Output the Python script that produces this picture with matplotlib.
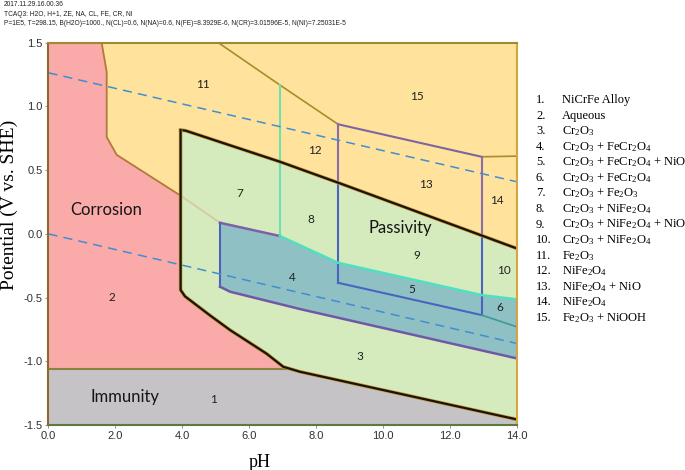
import matplotlib
matplotlib.use("Agg")
import matplotlib.pyplot as plt
from matplotlib.patches import Polygon

# Pourbaix diagram for NiCrFe alloy (pH vs potential)
header_lines = [
    "2017.11.29.16.00.36",
    "TCAQ3: H2O, H+1, ZE, NA, CL, FE, CR, NI",
    "P=1E5, T=298.15, B(H2O)=1000., N(CL)=0.6, N(NA)=0.6, N(FE)=8.3929E-6, "
    "N(CR)=3.01596E-5, N(NI)=7.25031E-5",
]

# boundary curves as (pH, E) points
aqueous_fe2o3 = [(1.59, 1.5), (1.74, 1.27), (1.74, 0.76), (2.04, 0.62), (3.95, 0.30)]
fe2o3_inner = [(3.95, 0.30), (5.13, 0.087)]
cr2o3_top = [(3.95, 0.815), (4.1, 0.81), (6.92, 0.566), (8.72, 0.396), (14.0, -0.114)]
cr2o3_left = [(3.95, 0.815), (3.95, -0.44), (4.08, -0.49), (4.83, -0.64),
              (5.43, -0.755), (6.52, -0.94), (7.02, -1.043), (7.52, -1.082), (14.0, -1.456)]
immunity_top = [(0.0, -1.064), (7.15, -1.064)]
fe_cr_top = [(5.13, 0.087), (6.92, -0.017), (8.66, -0.227), (12.95, -0.48), (14.0, -0.514)]
fe_cr_bottom = [(5.13, -0.415), (5.43, -0.454), (7.52, -0.59), (14.0, -0.977)]
hematite_split = [(5.08, 1.5), (6.92, 1.168), (8.66, 0.86)]
nio_top = [(8.66, 0.86), (12.95, 0.605)]
niooh_edge = [(12.95, 0.605), (14.0, 0.61)]
nio_bottom = [(8.66, -0.384), (12.95, -0.637)]
fecr_split = [(12.95, -0.637), (14.0, -0.729)]
ph_left_box = 8.66
ph_right_box = 12.95
ph_ni_split = 6.92

# water stability lines
o2_line = [(0.0, 1.264), (14.0, 0.409)]
h2_line = [(0.0, 0.0), (14.0, -0.86)]

# region labels
region_labels = ["11", "15", "12", "13", "14", "7", "8", "9", "10", "4", "5", "6", "3", "2", "1"]
label_ph = [4.62, 11.02, 7.97, 11.29, 13.41, 5.73, 7.85, 11.02, 13.62, 7.28, 10.87, 13.5, 9.31, 1.9, 4.92]
label_e = [1.176, 1.08, 0.658, 0.39, 0.265, 0.32, 0.115, -0.167, -0.286, -0.34, -0.435, -0.58, -0.96, -0.5, -1.3]

zone_names = ["Corrosion", "Passivity", "Immunity"]
zone_ph = [1.72, 10.51, 2.29]
zone_e = [0.185, 0.045, -1.28]

legend_items = [
    "NiCrFe Alloy", "Aqueous", r"Cr$_2$O$_3$", r"Cr$_2$O$_3$ + FeCr$_2$O$_4$",
    r"Cr$_2$O$_3$ + FeCr$_2$O$_4$ + NiO", r"Cr$_2$O$_3$ + FeCr$_2$O$_4$",
    r"Cr$_2$O$_3$ + Fe$_2$O$_3$", r"Cr$_2$O$_3$ + NiFe$_2$O$_4$",
    r"Cr$_2$O$_3$ + NiFe$_2$O$_4$ + NiO", r"Cr$_2$O$_3$ + NiFe$_2$O$_4$",
    r"Fe$_2$O$_3$", r"NiFe$_2$O$_4$", r"NiFe$_2$O$_4$ + NiO", r"NiFe$_2$O$_4$",
    r"Fe$_2$O$_3$ + NiOOH",
]

plt.rcParams["mathtext.fontset"] = "custom"
plt.rcParams["mathtext.rm"] = "Liberation Serif"
plt.rcParams["mathtext.it"] = "Liberation Serif:italic"

fig = plt.figure(figsize=(6.85, 4.7), dpi=100)
ax = fig.add_axes([0.0708, 0.0957, 0.6835, 0.8134])
ax.set_xlim(0, 14)
ax.set_ylim(-1.5, 1.5)
ax.set_facecolor("#ffe39c")

red = "#f9aaa9"
green = "#d6ebbd"
teal = "#8fc1c4"
grey = "#c5c3c5"


def xs(pts):
    return [p[0] for p in pts]


def ys(pts):
    return [p[1] for p in pts]


# green Cr2O3 zone
green_poly = cr2o3_top + [(14.0, -1.456)] + cr2o3_left[::-1][1:]
ax.add_patch(Polygon(green_poly, closed=True, facecolor=green, edgecolor="none", zorder=1))

# red aqueous zone
red_poly = ([(0.0, 1.5)] + aqueous_fe2o3 + [(3.95, -0.44)] + cr2o3_left[2:7]
            + [(7.15, -1.064), (0.0, -1.064)])
ax.add_patch(Polygon(red_poly, closed=True, facecolor=red, edgecolor="none", zorder=1))

# grey immunity zone
grey_poly = [(0.0, -1.5), (14.0, -1.5), (14.0, -1.456), (7.52, -1.082), (7.15, -1.064), (0.0, -1.064)]
ax.add_patch(Polygon(grey_poly, closed=True, facecolor=grey, edgecolor="none", zorder=1))

# teal FeCr2O4 zone
teal_poly = fe_cr_top + fe_cr_bottom[::-1]
ax.add_patch(Polygon(teal_poly, closed=True, facecolor=teal, edgecolor="none", zorder=1))

# boundary lines
ax.plot(xs(aqueous_fe2o3), ys(aqueous_fe2o3), color="#b07a3a", lw=1.3, zorder=3)
ax.plot(xs(fe2o3_inner), ys(fe2o3_inner), color="#d9c7a0", lw=1.3, zorder=3)
ax.plot(xs(immunity_top), ys(immunity_top), color="#8a8040", lw=1.5, zorder=3)
ax.plot(xs(hematite_split), ys(hematite_split), color="#a88c2a", lw=1.2, zorder=3)
ax.plot(xs(niooh_edge), ys(niooh_edge), color="#a88c2a", lw=1.2, zorder=3)
ax.plot(xs(nio_top), ys(nio_top), color="#7e64a0", lw=1.5, zorder=3)

# NiFe2O4 split (vertical mint line)
ax.plot([ph_ni_split, ph_ni_split], [1.168, -0.017], color="#6ee0b0", lw=1.5, zorder=3)

# NiO box verticals
e_black_left = 0.396
e_black_right = 0.396 + (ph_right_box - 8.72) * (-0.114 - 0.396) / (14.0 - 8.72)
ax.plot([ph_left_box, ph_left_box], [0.86, e_black_left], color="#8a6ca8", lw=1.5, zorder=3)
ax.plot([ph_left_box, ph_left_box], [e_black_left, -0.384], color="#4a64c0", lw=1.5, zorder=3)
ax.plot([ph_right_box, ph_right_box], [0.605, e_black_right], color="#8a6ca8", lw=1.5, zorder=3)
ax.plot([ph_right_box, ph_right_box], [e_black_right, -0.637], color="#4a64c0", lw=1.5, zorder=3)
ax.plot(xs(nio_bottom), ys(nio_bottom), color="#4a64c0", lw=1.5, zorder=3)
ax.plot(xs(fecr_split), ys(fecr_split), color="#3e9a98", lw=1.2, zorder=3)

# teal zone outline
ax.plot(xs(fe_cr_top[:2]), ys(fe_cr_top[:2]), color="#7e5fa8", lw=1.8, zorder=3)
ax.plot(xs(fe_cr_top[1:]), ys(fe_cr_top[1:]), color="#4fe0c0", lw=1.8, zorder=3)
ax.plot([5.13, 5.13], [0.087, -0.415], color="#5060b8", lw=1.5, zorder=3)
ax.plot(xs(fe_cr_bottom), ys(fe_cr_bottom), color="#7058a8", lw=1.8, zorder=3)
ax.plot([14.0, 14.0], [-0.514, -0.977], color="#4a64c0", lw=1.5, zorder=4)

# black Cr2O3 outline
ax.plot(xs(cr2o3_top), ys(cr2o3_top), color="#c89a40", lw=2.6, zorder=4)
ax.plot(xs(cr2o3_top), ys(cr2o3_top), color="#1a1408", lw=1.6, zorder=4)
ax.plot(xs(cr2o3_left), ys(cr2o3_left), color="#c89a40", lw=2.6, zorder=4)
ax.plot(xs(cr2o3_left), ys(cr2o3_left), color="#1a1408", lw=1.6, zorder=4)

# water lines
ax.plot(xs(o2_line), ys(o2_line), color="#3f8fd0", lw=1.1, ls=(0, (6, 4)), zorder=5)
ax.plot(xs(h2_line), ys(h2_line), color="#3f8fd0", lw=1.1, ls=(0, (6, 4)), zorder=5)

# labels
for lab, px, pe in zip(region_labels, label_ph, label_e):
    ax.text(px, pe, lab, fontsize=8.5, family="Lato", ha="center", va="center", color="#202020", zorder=6)
for lab, px, pe in zip(zone_names, zone_ph, zone_e):
    ax.text(px, pe, lab, fontsize=12, family="Lato", ha="center", va="center", color="#151515", zorder=6)

# axes styling
spine_colors = {"left": "#8a6a30", "bottom": "#5a7a40", "top": "#a08a30", "right": "#d4a640"}
for side, col in spine_colors.items():
    ax.spines[side].set_color(col)
    ax.spines[side].set_linewidth(1.5)
    ax.spines[side].set_zorder(7)

ax.set_xticks([0, 2, 4, 6, 8, 10, 12, 14])
ax.set_xticklabels(["0.0", "2.0", "4.0", "6.0", "8.0", "10.0", "12.0", "14.0"])
ax.set_yticks([1.5, 1.0, 0.5, 0.0, -0.5, -1.0, -1.5])
ax.set_yticklabels(["1.5", "1.0", "0.5", "0.0", "-0.5", "-1.0", "-1.5"])
ax.tick_params(length=2, width=0.6, color="#808080", labelsize=8, pad=2)
for t in ax.get_xticklabels() + ax.get_yticklabels():
    t.set_family("Liberation Sans")
    t.set_color("#303030")

ax.set_xlabel("pH", family="Liberation Serif", fontsize=13, va="center")
ax.xaxis.set_label_coords(0.45, -0.097)
ax.set_ylabel("Potential (V vs. SHE)", family="Liberation Serif", fontsize=14, va="center")
ax.yaxis.set_label_coords(-0.083, 0.575)

# header
for i, line in enumerate(header_lines):
    fig.text(0.006, 1 - (5 + 9.2 * i) / 470, line, fontsize=4.8, family="Liberation Sans",
             va="center", ha="left", color="#202020")

# legend list
for i, item in enumerate(legend_items):
    yy = 1 - (100 + 15.57 * i) / 470
    fig.text(536 / 685, yy, f"{i + 1}.", fontsize=9, family="Liberation Serif", va="center", ha="left")
    fig.text(562 / 685, yy, item, fontsize=9, family="Liberation Serif", va="center", ha="left")

fig.savefig("out.png", dpi=100)
plt.close(fig)
